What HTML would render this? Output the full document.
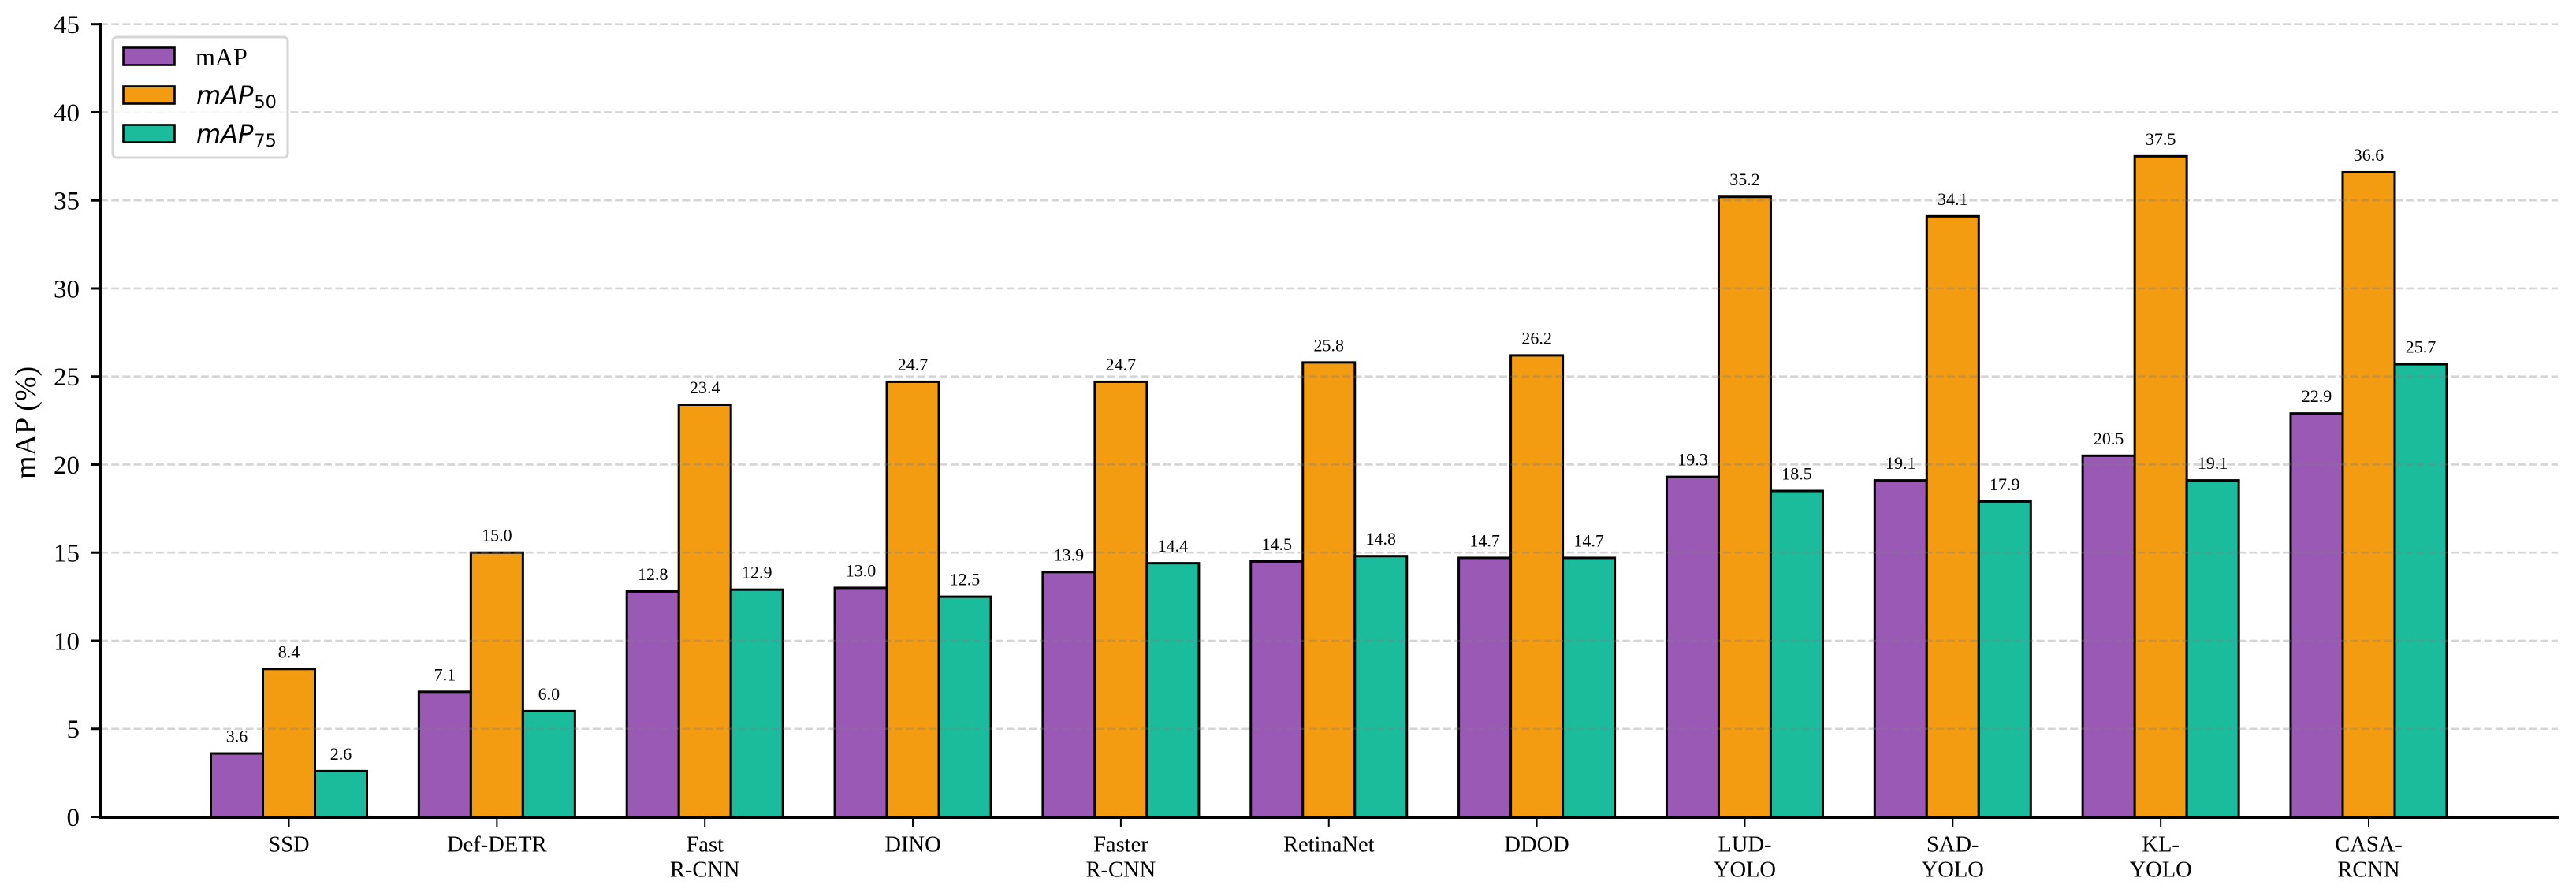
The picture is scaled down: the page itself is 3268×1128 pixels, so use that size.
<!DOCTYPE html>
<html lang="en">
<head>
<meta charset="utf-8">
<title>mAP comparison chart</title>
<style>
html,body{margin:0;padding:0;background:#fff;}
svg{display:block;}
text{fill:#000;font-family:"Liberation Serif",serif;}
.math{font-family:"DejaVu Sans",sans-serif;font-style:italic;font-size:32px;}
.math tspan.sub{font-style:normal;font-size:22.4px;}
</style>
</head>
<body>
<svg id="chart" xmlns="http://www.w3.org/2000/svg" width="3268" height="1128" viewBox="0 0 3268 1128">
  <rect x="0" y="0" width="3268" height="1128" fill="#ffffff"/>
  <g id="bars"></g>
  <g id="grid"></g>
  <g id="values"></g>
  <g id="axes"></g>
  <text transform="translate(45,608) rotate(-90)" font-size="38">mAP (%)</text>
  <g>
    <rect x="143" y="47" width="222" height="153" rx="5" ry="5" fill="#ffffff" fill-opacity="0.8" stroke="#d6d6d6" stroke-width="3"/>
    <g>
      <rect x="156.5" y="60.5" width="65" height="22" fill="#9b59b6" stroke="#000" stroke-width="2.6"/>
      <text x="248" y="83" font-size="32">mAP</text>
    </g>
    <g>
      <rect x="156.5" y="109.5" width="65" height="22" fill="#f39c12" stroke="#000" stroke-width="2.6"/>
      <text class="math" x="249" y="132">mAP<tspan class="sub" dy="5" dx="1">50</tspan></text>
    </g>
    <g>
      <rect x="156.5" y="158.5" width="65" height="22" fill="#1abc9c" stroke="#000" stroke-width="2.6"/>
      <text class="math" x="249" y="181">mAP<tspan class="sub" dy="5" dx="1">75</tspan></text>
    </g>
  </g>
</svg>
<script>
const categories = ["SSD","Def-DETR","Fast\nR-CNN","DINO","Faster\nR-CNN","RetinaNet","DDOD","LUD-\nYOLO","SAD-\nYOLO","KL-\nYOLO","CASA-\nRCNN"];
const mapValues = [3.6,7.1,12.8,13.0,13.9,14.5,14.7,19.3,19.1,20.5,22.9];
const map50Values = [8.4,15.0,23.4,24.7,24.7,25.8,26.2,35.2,34.1,37.5,36.6];
const map75Values = [2.6,6.0,12.9,12.5,14.4,14.8,14.7,18.5,17.9,19.1,25.7];
const yTicks = [0,5,10,15,20,25,30,35,40,45];

const NS = 'http://www.w3.org/2000/svg';
const yScale = v => 1036.5 - v * (1036.5 - 30.7) / 45;
const xScale = i => 366.5 + i * 263.85;
const barWidth = 66;
const seriesList = [
  {key:'map', values: mapValues, color:'#9b59b6', offset:-1},
  {key:'map50', values: map50Values, color:'#f39c12', offset:0},
  {key:'map75', values: map75Values, color:'#1abc9c', offset:1}
];
function mk(tag, attrs, parent){
  const el = document.createElementNS(NS, tag);
  for (const k in attrs) el.setAttribute(k, attrs[k]);
  parent.appendChild(el);
  return el;
}
const barsG = document.getElementById('bars');
const gridG = document.getElementById('grid');
const valuesG = document.getElementById('values');
const axesG = document.getElementById('axes');

seriesList.forEach(s => {
  s.values.forEach((v, i) => {
    const cx = xScale(i) + s.offset * barWidth;
    const top = yScale(v);
    const r = mk('rect', {x: cx - barWidth/2, y: top, width: barWidth, height: yScale(0) - top, fill: s.color, stroke:'#000', 'stroke-width':3}, barsG);
    
    
    const t = mk('text', {x: cx, y: top - 14.5, 'text-anchor':'middle', 'font-size':22}, valuesG);
    
    
    t.textContent = v.toFixed(1);
  });
});

yTicks.forEach(v => {
  const y = yScale(v);
  if (v > 0) {
    const g = mk('line', {x1:127, x2:3245, y1:y, y2:y, stroke:'#808080', 'stroke-opacity':0.33, 'stroke-width':2.6, 'stroke-dasharray':'10 4.2'}, gridG);
    
    
  }
  const tk = mk('line', {x1:115, x2:127, y1:y, y2:y, stroke:'#000', 'stroke-width':3}, axesG);
  
  
  const lb = mk('text', {x:101, y:y + 11.5, 'text-anchor':'end', 'font-size':33}, axesG);
  
  
  lb.textContent = String(v);
});

const ySpine = mk('line', {x1:127, x2:127, y1:29, y2:1038.5, stroke:'#000', 'stroke-width':4}, axesG);


const xSpine = mk('line', {x1:125, x2:3247, y1:1037, y2:1037, stroke:'#000', 'stroke-width':4}, axesG);



categories.forEach((c, i) => {
  const x = xScale(i);
  const tk = mk('line', {x1:x, x2:x, y1:1039, y2:1049, stroke:'#000', 'stroke-width':2}, axesG);
  
  
  c.split('\n').forEach((line, j) => {
    const t = mk('text', {x:x, y:1080.7 + j * 32, 'text-anchor':'middle', 'font-size':28.5}, axesG);
    
    
    t.textContent = line;
  });
});
</script>
</body>
</html>
